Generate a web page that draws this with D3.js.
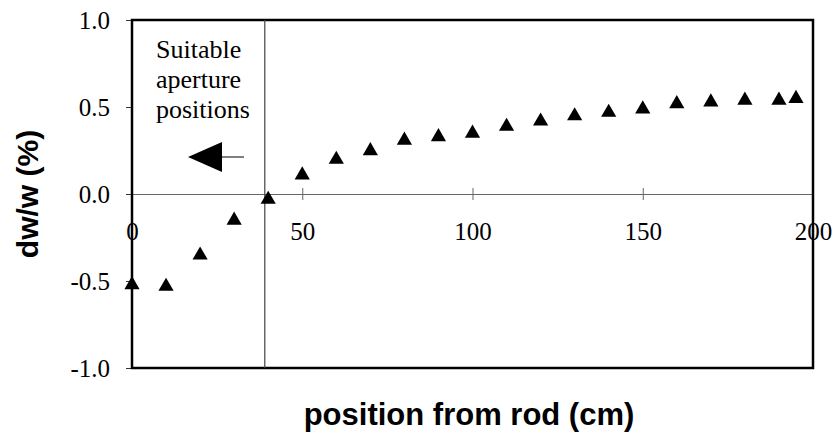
<!DOCTYPE html>
<html lang="en">
<head>
    <meta charset="utf-8">
    <title>dw/w vs position from rod</title>
    <script src="https://cdn.jsdelivr.net/npm/d3@7"></script>
    <style>
        body { margin: 0; background: #fff; }
    </style>
</head>
<body>
<script type="text/javascript">
    var positions = [0, 10, 20, 30, 40, 50, 60, 70, 80, 90, 100, 110, 120, 130, 140, 150, 160, 170, 180, 190, 195];
    var dwValues = [-0.51, -0.52, -0.34, -0.14, -0.02, 0.12, 0.21, 0.26, 0.32, 0.34, 0.36, 0.40, 0.43, 0.46, 0.48, 0.50, 0.53, 0.54, 0.55, 0.55, 0.56];
    var xTicks = [0, 50, 100, 150, 200];
    var yTicks = [-1.0, -0.5, 0.0, 0.5, 1.0];
    var limitPosition = 39;
    var noteLines = ["Suitable", "aperture", "positions"];

    var width = 837, height = 437;
    var margin = { top: 20, right: 24, bottom: 69, left: 132 };

    var svg = d3.select("body").append("svg")
            .attr("width", width)
            .attr("height", height);

    var x = d3.scaleLinear().domain([0, 200]).range([margin.left, width - margin.right]);
    var y = d3.scaleLinear().domain([-1, 1]).range([height - margin.bottom, margin.top]);

    var serif = "'Liberation Serif', 'Times New Roman', serif";
    var sans = "'Liberation Sans', Arial, sans-serif";

    // y axis, ticks on the left
    var yAxis = svg.append("g")
            .attr("transform", "translate(" + x(0) + ",0)")
            .call(d3.axisLeft(y).tickValues(yTicks).tickSize(6).tickPadding(16)
                .tickFormat(function(d) { return d3.format(".1f")(d).replace("\u2212", "-"); }));
    yAxis.select(".domain").remove();
    yAxis.selectAll("line").attr("stroke", "#333");
    yAxis.selectAll("text").attr("font-family", serif).attr("font-size", "25px").attr("fill", "#000");

    // zero line with the x ticks
    var xAxis = svg.append("g")
            .attr("transform", "translate(0," + y(0) + ")")
            .call(d3.axisBottom(x).tickValues(xTicks).tickSize(6).tickPadding(22));
    xAxis.select(".domain").attr("stroke", "#666").attr("stroke-width", 1);
    xAxis.selectAll("line").attr("y1", -6).attr("stroke", "#666");
    xAxis.selectAll("text").attr("font-family", serif).attr("font-size", "25px").attr("fill", "#000");

    // plot frame
    svg.append("rect")
            .attr("x", x(0))
            .attr("y", y(1))
            .attr("width", x(200) - x(0))
            .attr("height", y(-1) - y(1))
            .attr("fill", "none")
            .attr("stroke", "#000")
            .attr("stroke-width", 2.5);

    // boundary line
    svg.append("line")
            .attr("x1", x(limitPosition)).attr("x2", x(limitPosition))
            .attr("y1", y(1)).attr("y2", y(-1))
            .attr("stroke", "#444")
            .attr("stroke-width", 1.2);

    // note + arrow
    svg.append("text")
            .attr("font-family", serif)
            .attr("font-size", "26px")
            .attr("fill", "#000")
            .selectAll("tspan")
            .data(noteLines)
            .enter()
            .append("tspan")
            .attr("x", 156)
            .attr("y", function(d, i) { return 58 + i * 30; })
            .text(function(d) { return d; });

    svg.append("path")
            .attr("d", "M188,157 L222,142 L222,172 Z")
            .attr("fill", "#000");
    svg.append("line")
            .attr("x1", 222).attr("x2", 244)
            .attr("y1", 157).attr("y2", 157)
            .attr("stroke", "#000")
            .attr("stroke-width", 1);

    // data markers
    var triangle = d3.symbol().type(d3.symbolTriangle).size(100);
    svg.selectAll("path.pt")
            .data(positions)
            .enter()
            .append("path")
            .attr("class", "pt")
            .attr("d", triangle)
            .attr("transform", function(d, i) { return "translate(" + x(d) + "," + (y(dwValues[i]) + 2) + ")"; })
            .attr("fill", "#000");

    // axis titles
    svg.append("text")
            .attr("x", 469)
            .attr("y", 425)
            .attr("text-anchor", "middle")
            .attr("font-family", sans)
            .attr("font-weight", "bold")
            .attr("font-size", "31px")
            .text("position from rod (cm)");

    svg.append("text")
            .attr("transform", "translate(38," + y(0) + ") rotate(-90)")
            .attr("text-anchor", "middle")
            .attr("font-family", sans)
            .attr("font-weight", "bold")
            .attr("font-size", "30px")
            .text("dw/w (%)");
</script>
</body>
</html>
